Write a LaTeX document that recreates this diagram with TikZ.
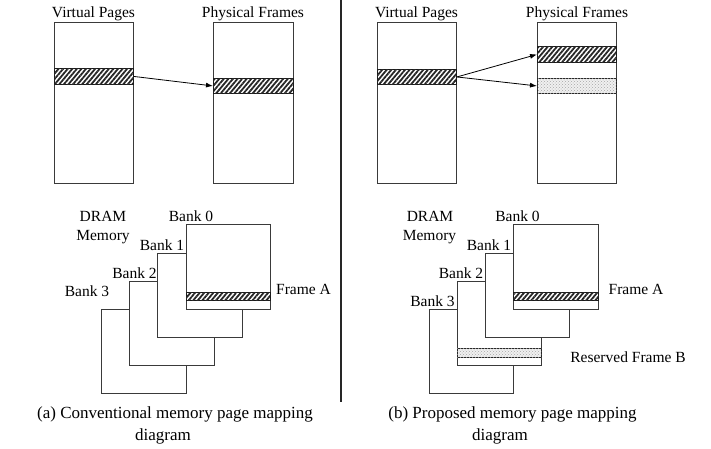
\documentclass[tikz,border=0pt]{standalone}
\usepackage{fontspec}
\setmainfont{Liberation Serif}
\usetikzlibrary{arrows.meta,patterns,patterns.meta}
\definecolor{edge}{HTML}{3A3A3A}
\tikzset{
  box/.style={draw=edge, line width=0.9pt, fill=white, inner sep=0pt, anchor=north west},
  hatchband/.style={draw=black!90, line width=0.9pt, inner sep=0pt, anchor=north west,
    fill=white, postaction={pattern={Lines[angle=50,distance=3.5pt,line width=1.8pt]}, pattern color=black!85}},
  dotband/.style={draw=black!85, line width=0.9pt, inner sep=0pt, anchor=north west,
    fill=gray!12, postaction={pattern=crosshatch dots, pattern color=gray!70}},
  lbl/.style={anchor=base, inner sep=0pt, font=\fontsize{15.5}{18}\selectfont},
  captext/.style={anchor=base, inner sep=0pt, font=\fontsize{17}{20}\selectfont},
  map/.style={draw=black, line width=0.8pt, -{Latex[length=7pt,width=5pt]}},
}
\begin{document}
\begin{tikzpicture}[x=1pt,y=-1pt]
\useasboundingbox (0,0) rectangle (711,449);

% divider between the two panels
\draw[line width=2pt, black!85] (341,0) coordinate (divtop) -- (341,402) coordinate (divbot);

% ---------- (a) conventional mapping ----------
\node[lbl] (vpA) at (93.5,18) {Virtual Pages};
\node[lbl] (pfA) at (253,18) {Physical Frames};
\node[box, minimum width=79pt, minimum height=161pt] (vA) at (54,22) {};
\node[box, minimum width=80pt, minimum height=161pt] (pA) at (213,22) {};
\node[hatchband, minimum width=79pt, minimum height=16pt] (vbandA) at (54,68) {};
\node[hatchband, minimum width=80pt, minimum height=15pt] (pbandA) at (213,78) {};
\draw[map] (vbandA.east) -- (pbandA.west);

% DRAM banks, back to front
\node[box, minimum width=85pt, minimum height=84pt] (b3A) at (101,309) {};
\node[box, minimum width=85pt, minimum height=84pt] (b2A) at (129,281) {};
\node[box, minimum width=85pt, minimum height=84pt] (b1A) at (157,253) {};
\node[box, minimum width=84pt, minimum height=85pt] (b0A) at (186,224) {};
\node[hatchband, minimum width=84pt, minimum height=8pt] (frameA) at (186,292) {};

\node[lbl] (dramA) at (103,221.5) {DRAM};
\node[lbl] (memA) at (103,240) {Memory};
\node[lbl] (k0A) at (191,221) {Bank 0};
\node[lbl] (k1A) at (162,250) {Bank 1};
\node[lbl] (k2A) at (134.5,278) {Bank 2};
\node[lbl] (k3A) at (87,296) {Bank 3};
\node[lbl] (faA) at (303.5,294) {Frame A};

\node[captext] (capA1) at (175,418) {(a) Conventional memory page mapping};
\node[captext] (capA2) at (163,440) {diagram};

% ---------- (b) proposed mapping ----------
\node[lbl] (vpB) at (416.5,18) {Virtual Pages};
\node[lbl] (pfB) at (577,18) {Physical Frames};
\node[box, minimum width=79pt, minimum height=161pt] (vB) at (377,22) {};
\node[box, minimum width=79pt, minimum height=161pt] (pB) at (537,22) {};
\node[hatchband, minimum width=79pt, minimum height=15pt] (vbandB) at (377,69) {};
\node[hatchband, minimum width=79pt, minimum height=16pt] (pbandB) at (537,46) {};
\node[dotband, minimum width=79pt, minimum height=15pt] (rbandB) at (537,78) {};
\draw[map] (vbandB.east) -- (pbandB.west);
\draw[map] (vbandB.east) -- (rbandB.west);

\node[box, minimum width=84pt, minimum height=84pt] (b3B) at (429,309) {};
\node[box, minimum width=84pt, minimum height=84pt] (b2B) at (457,281) {};
\node[dotband, minimum width=84pt, minimum height=9pt] (frameB) at (457,348) {};
\node[box, minimum width=84pt, minimum height=84pt] (b1B) at (485,253) {};
\node[box, minimum width=85pt, minimum height=85pt] (b0B) at (513,224) {};
\node[hatchband, minimum width=85pt, minimum height=8pt] (frameAB) at (513,292) {};

\node[lbl] (dramB) at (430,221.5) {DRAM};
\node[lbl] (memB) at (429.5,240) {Memory};
\node[lbl] (k0B) at (517.5,221) {Bank 0};
\node[lbl] (k1B) at (489,250) {Bank 1};
\node[lbl] (k2B) at (461,278) {Bank 2};
\node[lbl] (k3B) at (432.5,306) {Bank 3};
\node[lbl] (faB) at (636,294) {Frame A};
\node[lbl] (fbB) at (628,362) {Reserved Frame B};

\node[captext] (capB1) at (512.5,418) {(b) Proposed memory page mapping};
\node[captext] (capB2) at (500,440) {diagram};
\end{tikzpicture}
\end{document}
